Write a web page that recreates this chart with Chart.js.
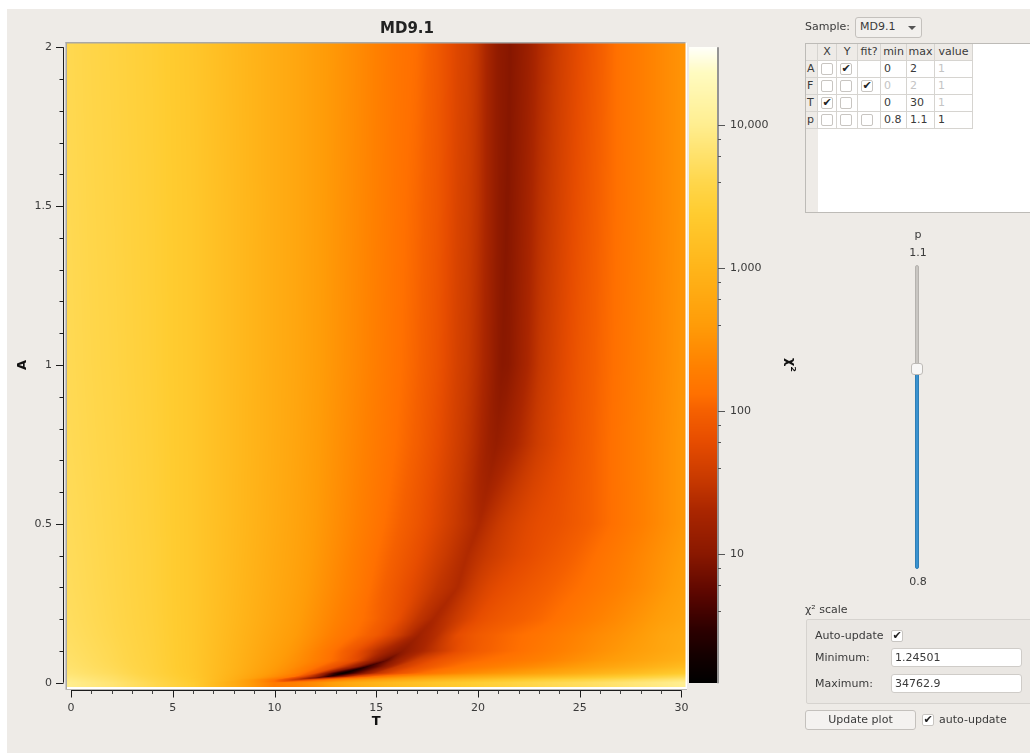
<!DOCTYPE html>
<html>
<head>
<meta charset="utf-8">
<title>MD9.1</title>
<script src="https://cdn.jsdelivr.net/npm/chart.js@4"></script>
<style>
html, body { margin: 0; padding: 0; background: #fff; }
.t { position: absolute; font: 11px "DejaVu Sans", sans-serif; color: #3a3a3a; white-space: nowrap; line-height: 14px; }
.box { position: absolute; width: 12px; height: 12px; background: #fff; border: 1px solid #c8c5c1; border-radius: 2px; box-sizing: border-box; font: 11px/10px "DejaVu Sans", sans-serif; color: #222; text-align: center; }
.cell { position: absolute; box-sizing: border-box; border-right: 1px solid #d6d4d0; border-bottom: 1px solid #d6d4d0; font: 11px/16px "DejaVu Sans", sans-serif; color: #3a3a3a; padding-left: 3px; }
.off { color: #c4c4c4; }
.input { position: absolute; background: #fff; border: 1px solid #cfccc8; border-radius: 3px; box-sizing: border-box; font: 11px/17px "DejaVu Sans", sans-serif; color: #3a3a3a; padding-left: 3px; }
</style>
</head>
<body>
<canvas id="plot" width="1030" height="753" style="position:absolute;left:0;top:0"></canvas>
<div id="gui"></div>
<script>
// Grid
const tValues = [0, 2, 4, 6, 8, 10, 11, 12, 13, 14, 15, 16, 17, 18, 19, 19.5, 20, 20.5, 21, 21.5, 22, 22.5, 23, 24, 25, 26, 27, 28, 29, 30];
const aValues = [0, 0.01, 0.02, 0.03, 0.05, 0.07, 0.1, 0.15, 0.2, 0.3, 0.4, 0.5, 0.75, 1, 1.5, 2];

// chi2 per row, bottom row first, one value per entry of tValues
const chi2A000 = [9500, 6800, 4200, 2400, 700, 175, 200, 280, 480, 700, 950, 1250, 1550, 1900, 2200, 2400, 2600, 2800, 3000, 3200, 3500, 3700, 4000, 4500, 5000, 5700, 6500, 7500, 8600, 10000];
const chi2A001 = [8500, 6000, 3800, 2200, 800, 150, 35, 70, 170, 300, 450, 620, 800, 1000, 1200, 1300, 1400, 1550, 1700, 1850, 2000, 2200, 2400, 2800, 3200, 3700, 4300, 5000, 5800, 6800];
const chi2A002 = [7500, 5500, 3500, 2100, 850, 280, 140, 20, 5, 50, 130, 220, 320, 420, 520, 570, 630, 690, 750, 820, 900, 980, 1050, 1250, 1500, 1800, 2200, 2700, 3300, 4000];
const chi2A003 = [6800, 5000, 3300, 2050, 900, 340, 200, 70, 3, 5, 28, 70, 115, 170, 230, 260, 290, 320, 350, 380, 420, 460, 510, 620, 760, 950, 1150, 1400, 1800, 2200];
const chi2A005 = [6200, 4600, 3200, 2000, 950, 400, 260, 140, 65, 12, 6, 32, 65, 100, 135, 150, 165, 180, 195, 215, 235, 255, 280, 340, 420, 520, 640, 790, 1000, 1250];
const chi2A007 = [5900, 4400, 3150, 2000, 970, 440, 300, 190, 115, 58, 11, 14, 40, 72, 100, 112, 122, 132, 142, 152, 165, 180, 195, 240, 300, 370, 450, 560, 700, 860];
const chi2A010 = [5600, 4300, 3100, 2000, 1000, 480, 340, 210, 125, 70, 26, 12, 17, 32, 62, 75, 90, 100, 110, 120, 130, 145, 160, 195, 240, 300, 370, 460, 570, 700];
const chi2A015 = [5300, 4100, 3050, 2000, 1050, 540, 400, 270, 175, 125, 85, 40, 17, 25, 60, 72, 85, 95, 105, 115, 125, 135, 145, 175, 215, 265, 320, 400, 540, 650];
const chi2A020 = [5100, 4000, 3000, 2000, 1100, 590, 440, 300, 205, 145, 105, 66, 30, 21, 36, 48, 62, 72, 80, 88, 95, 104, 112, 138, 170, 210, 265, 340, 440, 540];
const chi2A030 = [4900, 3900, 2950, 2000, 1150, 640, 490, 345, 240, 170, 115, 78, 50, 30, 23, 30, 40, 50, 58, 65, 72, 80, 88, 108, 130, 160, 200, 255, 340, 450];
const chi2A040 = [4800, 3850, 2950, 2000, 1180, 670, 520, 375, 265, 185, 130, 92, 64, 40, 26, 23, 28, 34, 40, 47, 54, 60, 68, 85, 108, 138, 175, 230, 305, 400];
const chi2A050 = [4700, 3800, 2900, 2000, 1200, 700, 540, 395, 285, 205, 148, 106, 76, 50, 32, 26, 21, 26, 33, 40, 47, 54, 60, 70, 88, 112, 145, 190, 260, 350];
const chi2A075 = [4500, 3700, 2850, 2000, 1220, 730, 570, 420, 310, 230, 170, 128, 95, 62, 38, 30, 22, 15, 13.5, 17, 22, 29, 38, 56, 82, 112, 148, 195, 260, 350];
const chi2A100 = [4400, 3600, 2800, 2000, 1230, 740, 590, 440, 330, 250, 185, 138, 105, 72, 42, 34, 25, 17, 11, 10.5, 15, 21, 31, 50, 78, 108, 142, 190, 250, 335];
const chi2A150 = [4300, 3500, 2750, 2000, 1240, 750, 600, 450, 340, 260, 195, 145, 112, 80, 46, 38, 28, 18, 11.5, 9.6, 13, 18, 26, 43, 68, 102, 138, 185, 245, 325];
const chi2A200 = [4200, 3400, 2700, 1950, 1200, 750, 600, 450, 350, 270, 200, 150, 125, 85, 50, 42, 30, 18, 11.5, 9.8, 11.5, 15, 22, 38, 60, 95, 140, 185, 245, 320];
const chi2Rows = [chi2A000, chi2A001, chi2A002, chi2A003, chi2A005, chi2A007, chi2A010, chi2A015, chi2A020, chi2A030, chi2A040, chi2A050, chi2A075, chi2A100, chi2A150, chi2A200];

// Dark valley in each row: where it sits and how deep it goes
const valleyT = [10, 11.3, 12.7, 13.4, 14.5, 15.5, 16.3, 17.1, 17.8, 19, 19.45, 20.1, 20.9, 21.2, 21.4, 21.6];
const valleyChi2 = [170, 30, 3, 1.3, 3, 6, 11, 16, 20, 22, 22, 21, 13, 10, 9.5, 9.5];

// Axis ticks
const tTicks = [0, 5, 10, 15, 20, 25, 30];
const tMinorTicks = [1, 2, 3, 4, 6, 7, 8, 9, 11, 12, 13, 14, 16, 17, 18, 19, 21, 22, 23, 24, 26, 27, 28, 29];
const aTicks = [0, 0.5, 1, 1.5, 2];
const aMinorTicks = [0.1, 0.2, 0.3, 0.4, 0.6, 0.7, 0.8, 0.9, 1.1, 1.2, 1.3, 1.4, 1.6, 1.7, 1.8, 1.9];
const chiTicks = [10, 100, 1000, 10000];
const chiMinorTicks = [4, 6, 8, 40, 60, 80, 400, 600, 800, 4000, 6000, 8000];
const chiMin = 1.24501;
const chiMax = 34762.9;

// Colour map: chi2 value and colour
const mapValues = [1.25, 1.8, 3, 5.3, 10, 20, 34, 60, 100, 130, 200, 400, 1000, 2400, 3900, 10000, 23000, 34763];
const mapColours = [[0, 0, 0], [16, 0, 0], [46, 0, 0], [92, 6, 0], [138, 24, 0], [170, 38, 0], [201, 58, 0], [230, 76, 0], [245, 96, 0], [255, 112, 0], [255, 128, 0], [255, 156, 8], [255, 181, 26], [255, 204, 48], [255, 214, 74], [255, 238, 144], [255, 251, 192], [255, 255, 250]];

const mapLogs = mapValues.map(v => Math.log10(v));

// Each row as sorted nodes, with its valley point put in
const rowNodes = chi2Rows.map((row, r) => {
    const nodes = tValues.map((t, c) => ({ t: t, v: Math.log10(row[c]) }))
        .filter(n => Math.abs(n.t - valleyT[r]) > 0.1);
    nodes.push({ t: valleyT[r], v: Math.log10(valleyChi2[r]) });
    nodes.sort((a, b) => a.t - b.t);
    return { ts: nodes.map(n => n.t), vs: nodes.map(n => n.v) };
});

function colourFor(logValue) {
    let i = 0;
    while (i < mapLogs.length - 2 && logValue > mapLogs[i + 1]) i++;
    let f = (logValue - mapLogs[i]) / (mapLogs[i + 1] - mapLogs[i]);
    f = Math.max(0, Math.min(1, f));
    const a = mapColours[i], b = mapColours[i + 1];
    return [a[0] + (b[0] - a[0]) * f, a[1] + (b[1] - a[1]) * f, a[2] + (b[2] - a[2]) * f];
}

// Position in a sorted axis array: index of the lower node and the fraction to the next
function locate(values, v) {
    if (v <= values[0]) return [0, 0];
    if (v >= values[values.length - 1]) return [values.length - 2, 1];
    let i = 0;
    while (v > values[i + 1]) i++;
    return [i, (v - values[i]) / (values[i + 1] - values[i])];
}

function readRow(r, t) {
    const nodes = rowNodes[r];
    const [i, f] = locate(nodes.ts, t);
    return nodes.vs[i] * (1 - f) + nodes.vs[i + 1] * f;
}

// Shading between two rows follows the valley, so the band stays smooth on the diagonal
function shiftT(t, from, to) {
    if (t <= from) return t * to / from;
    return 30 - (30 - t) * (30 - to) / (30 - from);
}

// Paints the heat map and the colour bar through the chart's scales
const heatmapPlugin = {
    id: 'heatmap',
    beforeDatasetsDraw(chart) {
        const ctx = chart.ctx, area = chart.chartArea;
        const xs = chart.scales.x, ys = chart.scales.y, cs = chart.scales.chi;

        const left = Math.round(area.left), top = Math.round(area.top);
        const w = Math.round(area.right) - left, h = Math.round(area.bottom) - top;
        const img = ctx.createImageData(w, h);
        for (let py = 0; py < h; py++) {
            const [r, fr] = locate(aValues, ys.getValueForPixel(top + py + 0.5));
            const m = valleyT[r] * (1 - fr) + valleyT[r + 1] * fr;
            for (let px = 0; px < w; px++) {
                const t = Math.max(0, Math.min(30, xs.getValueForPixel(left + px + 0.5)));
                const low = readRow(r, shiftT(t, m, valleyT[r]));
                const high = readRow(r + 1, shiftT(t, m, valleyT[r + 1]));
                const rgb = colourFor(low * (1 - fr) + high * fr);
                const k = (py * w + px) * 4;
                img.data[k] = rgb[0];
                img.data[k + 1] = rgb[1];
                img.data[k + 2] = rgb[2];
                img.data[k + 3] = 255;
            }
        }
        ctx.putImageData(img, left, top);

        // colour bar
        const barTop = Math.round(cs.getPixelForValue(chiMax));
        const barBottom = Math.round(cs.getPixelForValue(chiMin));
        for (let py = barTop; py < barBottom; py++) {
            const rgb = colourFor(Math.log10(cs.getValueForPixel(py + 0.5)));
            ctx.fillStyle = 'rgb(' + rgb.map(Math.round).join(',') + ')';
            ctx.fillRect(689, py, 28, 1);
        }
    },
    afterDraw(chart) {
        const ctx = chart.ctx, area = chart.chartArea;
        const xs = chart.scales.x, ys = chart.scales.y, cs = chart.scales.chi;
        ctx.save();

        // grey edge on top and left, white edge on the right and bottom
        ctx.fillStyle = '#a9a8a6';
        ctx.fillRect(area.left - 1.5, area.top - 1, area.right - area.left + 1.5, 1.5);
        ctx.fillRect(area.left - 1.5, area.top - 1, 1.5, area.bottom - area.top + 3);
        ctx.fillRect(area.left - 1.5, area.bottom + 2, area.right - area.left + 3, 0.8);
        ctx.fillStyle = '#ffffff';
        ctx.fillRect(area.right, area.top, 1.5, area.bottom - area.top + 2);
        ctx.fillRect(area.left, area.bottom, area.right - area.left + 1.5, 2);

        const segment = (x1, y1, x2, y2) => {
            ctx.beginPath();
            ctx.moveTo(x1, y1);
            ctx.lineTo(x2, y2);
            ctx.stroke();
        };

        ctx.strokeStyle = '#1c1c1c';
        ctx.lineWidth = 1;
        // T axis
        const axisY = 690.5;
        segment(xs.getPixelForValue(0), axisY, xs.getPixelForValue(30), axisY);
        tTicks.forEach(v => { const p = Math.round(xs.getPixelForValue(v)) + 0.5; segment(p, axisY, p, axisY + 7); });
        ctx.strokeStyle = '#444';
        tMinorTicks.forEach(v => { const p = Math.round(xs.getPixelForValue(v)) + 0.5; segment(p, axisY, p, axisY + 3.5); });

        // A axis
        ctx.strokeStyle = '#1c1c1c';
        const axisX = 63.5;
        segment(axisX, ys.getPixelForValue(0), axisX, ys.getPixelForValue(2));
        aTicks.forEach(v => { const p = Math.round(ys.getPixelForValue(v)) + 0.5; segment(axisX, p, axisX - 7.5, p); });
        aMinorTicks.forEach(v => { const p = Math.round(ys.getPixelForValue(v)) + 0.5; segment(axisX, p, axisX - 4, p); });

        // colour bar axis
        const barX = 718;
        ctx.strokeStyle = '#777';
        ctx.lineWidth = 1.5;
        segment(barX, cs.getPixelForValue(chiMax), barX, cs.getPixelForValue(chiMin));
        ctx.lineWidth = 1;
        ctx.strokeStyle = '#555';
        chiTicks.forEach(v => { const p = Math.round(cs.getPixelForValue(v)) + 0.5; segment(barX, p, barX + 7, p); });
        chiMinorTicks.forEach(v => { const p = Math.round(cs.getPixelForValue(v)) + 0.5; segment(barX, p, barX + 3, p); });
        ctx.restore();
    }
};

const tickFont = { family: '"DejaVu Sans"', size: 11 };
const titleFont = { family: '"DejaVu Sans"', size: 13, weight: 'bold' };

new Chart(document.getElementById('plot'), {
    type: 'scatter',
    data: {
        datasets: [{
            label: 'chi2',
            data: aValues.flatMap((a, r) => tValues.map((t, c) => ({ x: t, y: a, v: chi2Rows[r][c] }))),
            pointRadius: 0
        }]
    },
    options: {
        responsive: false,
        animation: false,
        events: [],
        layout: { padding: { top: 43, left: 0, right: 0, bottom: 0 } },
        plugins: {
            legend: { display: false },
            tooltip: { enabled: false },
            title: { display: false }
        },
        scales: {
            x: {
                type: 'linear',
                min: -0.197,
                max: 30.197,
                grid: { display: false, drawTicks: false },
                border: { display: false },
                afterBuildTicks: scale => { scale.ticks = tTicks.map(value => ({ value })); },
                afterFit: scale => { scale.height = 66; scale.paddingLeft = 0; scale.paddingRight = 0; },
                ticks: { color: '#3a3a3a', font: tickFont, padding: 15, maxRotation: 0, autoSkip: false, callback: v => String(v) },
                title: { display: true, text: 'T', color: '#111', font: titleFont, padding: { top: 0, bottom: 24 } }
            },
            y: {
                type: 'linear',
                position: 'left',
                min: -0.0135,
                max: 2.0135,
                grid: { display: false, drawTicks: false },
                border: { display: false },
                afterBuildTicks: scale => { scale.ticks = aTicks.map(value => ({ value })); },
                afterFit: scale => { scale.width = 67; scale.paddingTop = 0; scale.paddingBottom = 0; },
                ticks: { color: '#3a3a3a', font: tickFont, padding: 15, autoSkip: false, callback: v => String(v) },
                title: { display: true, text: 'A', color: '#111', font: titleFont, padding: { top: 15, bottom: 0 } }
            },
            chi: {
                type: 'logarithmic',
                position: 'right',
                min: 1.17,
                max: 37240,
                grid: { display: false, drawTicks: false },
                border: { display: false },
                afterBuildTicks: scale => { scale.ticks = chiTicks.map(value => ({ value })); },
                afterFit: scale => { scale.width = 344.5; scale.paddingTop = 0; scale.paddingBottom = 0; },
                ticks: { color: '#3a3a3a', font: tickFont, padding: 44.5, autoSkip: false, callback: v => Number(v).toLocaleString('en-US') },
                title: { display: true, text: 'χ²', color: '#111', font: titleFont, padding: { top: 232, bottom: 0 } }
            }
        }
    },
    plugins: [heatmapPlugin]
});

// Controls on the right, coordinates are window pixels
const gui = document.getElementById('gui');

function add(cls, x, y, w, h, text, extra) {
    const el = document.createElement('div');
    el.className = cls;
    el.style.left = x + 'px';
    el.style.top = y + 'px';
    if (w) el.style.width = w + 'px';
    if (h) el.style.height = h + 'px';
    if (text !== undefined) el.textContent = text;
    if (extra) Object.assign(el.style, extra);
    gui.appendChild(el);
    return el;
}
const label = (x, y, text, extra) => add('t', x, y - 7, 0, 0, text, extra);
const rect = (x, y, w, h, extra) => add('', x, y, w, h, undefined, Object.assign({ position: 'absolute', boxSizing: 'border-box' }, extra));
const check = (x, y, on) => add('box', x, y, 0, 0, on ? '✔' : '');

// page background
rect(7, 9, 1023, 744, { background: '#eeebe7', zIndex: -1 });

// title
label(407, 28, 'MD9.1', { font: 'bold 15px "DejaVu Sans"', transform: 'translateX(-50%)', color: '#222', lineHeight: '14px' });

// sample selector
label(805, 27, 'Sample:');
rect(855, 17, 67, 21, { background: '#f2f0ed', border: '1px solid #c4c1bd', borderRadius: '3px' });
label(860, 27, 'MD9.1');
rect(908, 26, 0, 0, { borderLeft: '4px solid transparent', borderRight: '4px solid transparent', borderTop: '4px solid #555', width: '8px', height: '4px' });

// parameter table
const colEdges = [806, 818, 837, 858, 881, 907, 935, 973];
const headers = ['', 'X', 'Y', 'fit?', 'min', 'max', 'value'];
const rowNames = ['A', 'F', 'T', 'p'];
const rowChecks = [[false, true, null], [false, false, true], [true, false, null], [false, false, false]];
const rowMin = ['0', '0', '0', '0.8'];
const rowMax = ['2', '2', '30', '1.1'];
const rowValue = ['1', '1', '1', '1'];
const rowOff = [[false, false, true], [true, true, true], [false, false, true], [false, false, false]];

rect(805, 43, 225, 170, { background: '#fff', border: '1px solid #bdbbb7', borderRight: 'none' });
rect(806, 44, 12, 168, { background: '#eeebe7' });
headers.forEach((h, i) => {
    add('cell', colEdges[i], 44, colEdges[i + 1] - colEdges[i], 17, h, { textAlign: 'center', paddingLeft: '0', background: '#eeebe7' });
});
rowNames.forEach((name, r) => {
    const y = 61 + r * 17;
    add('cell', 806, y, 12, 17, name, { paddingLeft: '1px', background: '#eeebe7' });
    [0, 1, 2].forEach(c => {
        add('cell', colEdges[c + 1], y, colEdges[c + 2] - colEdges[c + 1], 17, '');
        if (rowChecks[r][c] !== null) check(colEdges[c + 1] + 3, y + 2, rowChecks[r][c]);
    });
    [rowMin[r], rowMax[r], rowValue[r]].forEach((text, c) => {
        const el = add('cell', colEdges[c + 4], y, colEdges[c + 5] - colEdges[c + 4], 17, text);
        if (rowOff[r][c]) el.classList.add('off');
    });
});

// p slider
label(918, 235, 'p', { transform: 'translateX(-50%)' });
label(918, 253, '1.1', { transform: 'translateX(-50%)' });
rect(915, 265, 4, 100, { background: '#c9c6c2', border: '1px solid #b5b2ae', borderRadius: '2px' });
rect(915, 372, 4, 197, { background: '#3a92d0', border: '1px solid #2f7fb5', borderRadius: '2px' });
rect(911, 363, 12, 12, { background: '#f8f7f6', border: '1px solid #bdbab6', borderRadius: '3px' });
label(918, 582, '0.8', { transform: 'translateX(-50%)' });

// chi2 scale group
label(805, 610, 'χ² scale');
rect(806, 619, 230, 85, { background: '#eae7e3', border: '1px solid #d6d3cf', borderRadius: '2px' });
label(815, 636, 'Auto-update');
check(891, 630, true);
label(815, 658, 'Minimum:');
add('input', 891, 648, 131, 19, '1.24501');
label(815, 684, 'Maximum:');
add('input', 891, 674, 131, 19, '34762.9');

// bottom row
add('input', 805, 710, 111, 20, 'Update plot', { background: '#f4f2f0', textAlign: 'center', paddingLeft: '0', borderColor: '#c4c1bd', lineHeight: '18px' });
check(922, 714, true);
label(939, 720, 'auto-update');
</script>
</body>
</html>
